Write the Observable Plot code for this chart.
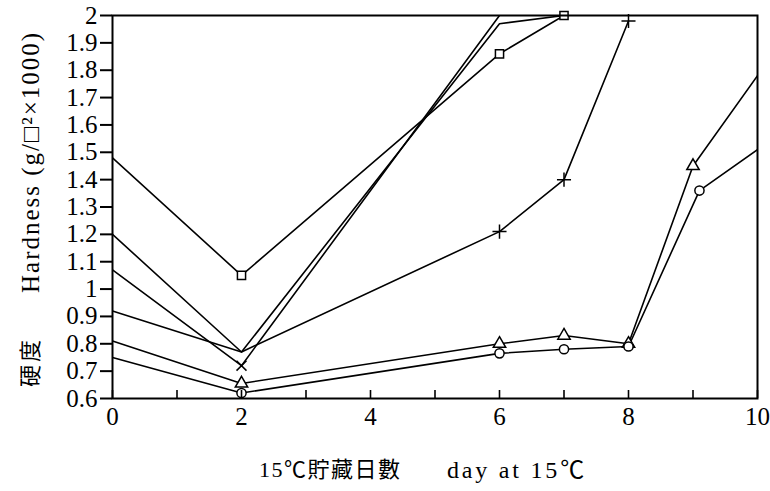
<!DOCTYPE html>
<html><head><meta charset="utf-8">
<script src="https://cdn.jsdelivr.net/npm/d3@7"></script>
<script src="https://cdn.jsdelivr.net/npm/@observablehq/plot@0.6"></script>
<style>body{margin:0;background:#fff}</style>
</head><body><div id="chart"></div>
<script>
// Series values (day, hardness g/□²×1000)
const daysA = [0, 2, 6, 7];            const hardA = [1.48, 1.05, 1.86, 2.00];
const daysB = [0, 2, 6, 7];            const hardB = [1.20, 0.77, 1.97, 2.00];
const daysC = [0, 2, 6];               const hardC = [1.07, 0.72, 2.00];
const daysD = [0, 2, 6, 7, 8];         const hardD = [0.92, 0.77, 1.21, 1.40, 1.98];
const daysE = [0, 2, 6, 7, 8, 9, 10];  const hardE = [0.81, 0.655, 0.80, 0.83, 0.80, 1.45, 1.78];
const daysF = [0, 2, 6, 7, 8, 9.1, 10];const hardF = [0.75, 0.62, 0.765, 0.78, 0.79, 1.36, 1.51];
const seriesNames = ["A", "B", "C", "D", "E", "F"];
const seriesSymbols = ["square", null, "times", "plus", "triangle", "circle"];
// which points carry a visible marker (by index)
const markedIdx = [[1, 2, 3], [], [1], [2, 3, 4], [1, 2, 3, 4, 5], [1, 2, 3, 4, 5]];
const xTicks = [0, 1, 2, 3, 4, 5, 6, 7, 8, 9, 10];
const xTickLabels = [0, 2, 4, 6, 8, 10];
const yTicks = [0.6, 0.7, 0.8, 0.9, 1.0, 1.1, 1.2, 1.3, 1.4, 1.5, 1.6, 1.7, 1.8, 1.9, 2.0];
const xLabelJa = "15℃貯藏日數";
const xLabelEn = "day at 15℃";
const yLabelJa = "硬度";
const yLabelEn = "Hardness (g/□²×1000)";

const allDays = [daysA, daysB, daysC, daysD, daysE, daysF];
const allHard = [hardA, hardB, hardC, hardD, hardE, hardF];
const rows = [];
const marks = [];
seriesNames.forEach((s, i) => {
  allDays[i].forEach((d, j) => {
    rows.push({series: s, day: d, hard: allHard[i][j]});
    if (markedIdx[i].includes(j)) marks.push({series: s, day: d, hard: allHard[i][j], symbol: seriesSymbols[i]});
  });
});

const font = "'Liberation Serif', 'Noto Sans CJK JP', serif";
const chart = Plot.plot({
  width: 770, height: 491,
  marginLeft: 112, marginRight: 13, marginTop: 15, marginBottom: 93,
  style: {fontFamily: font, fontSize: "22px", background: "#fff", color: "#000"},
  x: {domain: [0, 10]},
  y: {domain: [0.6, 2.0]},
  symbol: {type: "identity"},
  marks: [
    Plot.line(rows, {x: "day", y: "hard", z: "series", stroke: "#000", strokeWidth: 1.6, clip: true}),
    Plot.dot(marks, {x: "day", y: "hard", symbol: "symbol", r: 4.6, stroke: "#000", fill: "#fff", strokeWidth: 1.5}),
    Plot.frame({stroke: "#000", strokeWidth: 2}),
    Plot.axisY({ticks: yTicks, tickSize: 12, tickPadding: 3, strokeWidth: 2,
      tickFormat: d => String(+d.toFixed(1)), label: null, fontSize: 25}),
    Plot.axisX({ticks: xTicks, tickSize: -8, strokeWidth: 1.6, tickFormat: () => "", label: null}),
    Plot.axisX({ticks: xTickLabels, tickSize: 0, tickPadding: 9, tickFormat: d => String(d), label: null, fontSize: 25}),
    Plot.text([yLabelJa], {frameAnchor: "left", dx: -82, dy: 180, rotate: -90, textAnchor: "start", fontSize: 22, text: d => d}),
    Plot.text([yLabelEn], {frameAnchor: "left", dx: -82, dy: 86, rotate: -90, textAnchor: "start", fontSize: 25, text: d => d}),
    Plot.text([xLabelJa], {frameAnchor: "bottom", dx: -176, dy: 78, textAnchor: "start", fontSize: 22, text: d => d}),
    Plot.text([xLabelEn], {frameAnchor: "bottom", dx: 12, dy: 79, textAnchor: "start", fontSize: 24, text: d => d})
  ]
});
const spacing = new Map([[yLabelEn, "2px"], [xLabelEn, "2.8px"], [xLabelJa, "1.5px"], [yLabelJa, "3px"]]);
d3.select(chart).selectAll("text").each(function() {
  const t = this.textContent;
  if (spacing.has(t)) d3.select(this).style("letter-spacing", spacing.get(t));
});
document.getElementById("chart").appendChild(chart);
</script>
</body></html>
